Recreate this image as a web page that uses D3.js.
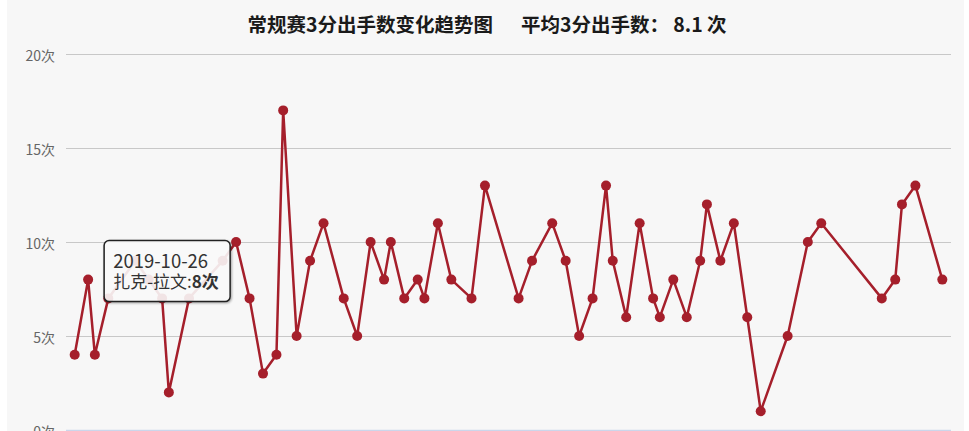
<!DOCTYPE html>
<html>
<head>
<meta charset="utf-8">
<script src="https://cdn.jsdelivr.net/npm/d3@7"></script>
<style>
  body { margin: 0; background: #fff; }
  svg { display: block; font-family: "Noto Sans CJK SC", "Noto Sans", sans-serif; }
</style>
</head>
<body>
<svg id="chart"></svg>
<script>
const width = 969;
const height = 431;
const plot = {left: 66, right: 951, top: 54, bottom: 430};

// game dates (Beijing time) and 3-point attempts
const gameDates = [
  '2019-10-24', '2019-10-26', '2019-10-27', '2019-10-29', '2019-11-02', '2019-11-04',
  '2019-11-06', '2019-11-07', '2019-11-10', '2019-11-15', '2019-11-17', '2019-11-19',
  '2019-11-21', '2019-11-23', '2019-11-24', '2019-11-26', '2019-11-28', '2019-11-30',
  '2019-12-03', '2019-12-05', '2019-12-07', '2019-12-09', '2019-12-10', '2019-12-12',
  '2019-12-14', '2019-12-15', '2019-12-17', '2019-12-19', '2019-12-22', '2019-12-24',
  '2019-12-29', '2019-12-31', '2020-01-03', '2020-01-05', '2020-01-07', '2020-01-09',
  '2020-01-11', '2020-01-12', '2020-01-14', '2020-01-16', '2020-01-18', '2020-01-19',
  '2020-01-21', '2020-01-23', '2020-01-25', '2020-01-26', '2020-01-28', '2020-01-30',
  '2020-02-01', '2020-02-03', '2020-02-07', '2020-02-10', '2020-02-12', '2020-02-21',
  '2020-02-23', '2020-02-24', '2020-02-26', '2020-03-01'
];
const attempts = [
  4, 8, 4, 7, 9, 8,
  7, 2, 7, 9, 10, 7,
  3, 4, 17, 5, 9, 11,
  7, 5, 10, 8, 10, 7,
  8, 7, 11, 8, 7, 13,
  7, 9, 11, 9, 5, 7,
  13, 9, 6, 11, 7, 6,
  8, 6, 9, 12, 9, 11,
  6, 1, 5, 10, 11, 7,
  8, 12, 13, 8
];
const yTicks = [0, 5, 10, 15, 20];
const playerName = '扎克-拉文';
const titleMain = '常规赛3分出手数变化趋势图';
const titleAvg = '平均3分出手数： 8.1 次';
const tooltipIndex = 1;

const parseDate = d3.timeParse('%Y-%m-%d');
const games = gameDates.map((d, i) => ({date: parseDate(d), label: d, value: attempts[i]}));

const svg = d3.select('#chart')
  .attr('width', width)
  .attr('height', height);

svg.append('rect')
  .attr('x', 7)
  .attr('y', 0)
  .attr('width', 957)
  .attr('height', height)
  .attr('fill', '#f7f7f7');

// title
const title = svg.append('text')
  .attr('x', 487)
  .attr('y', 32)
  .attr('text-anchor', 'middle')
  .attr('font-size', 19.5)
  .attr('font-weight', 'bold')
  .attr('fill', '#1a1a1a');
title.append('tspan').text(titleMain);
title.append('tspan').attr('dx', 28).text(titleAvg);

// scales
const extent = d3.extent(games, d => d.date);
const pad = (extent[1] - extent[0]) * 0.01;
const xScale = d3.scaleTime()
  .domain([new Date(+extent[0] - pad), new Date(+extent[1] + pad)])
  .range([plot.left, plot.right]);

const yScale = d3.scaleLinear()
  .domain([0, 20])
  .range([plot.bottom, plot.top]);

// y axis with grid lines
const yAxis = d3.axisLeft(yScale)
  .tickValues(yTicks)
  .tickSize(-(plot.right - plot.left))
  .tickPadding(11)
  .tickFormat(d => d + '次');

const yAxisGroup = svg.append('g')
  .attr('transform', `translate(${plot.left}, 0)`)
  .call(yAxis);
yAxisGroup.select('.domain').remove();
yAxisGroup.selectAll('.tick line')
  .attr('stroke', d => d === 0 ? '#ccd6eb' : '#c8c8c8')
  .attr('stroke-width', d => d === 0 ? 1.5 : 1.2);
yAxisGroup.selectAll('.tick text')
  .attr('fill', '#666')
  .attr('font-size', 14)
  .attr('dy', '0.45em')
  .style('font-family', '"Noto Sans CJK SC", sans-serif');

// line and markers
const lineColor = '#a51f2b';
const line = d3.line()
  .x(d => xScale(d.date))
  .y(d => yScale(d.value));

svg.append('path')
  .datum(games)
  .attr('d', line)
  .attr('fill', 'none')
  .attr('stroke', lineColor)
  .attr('stroke-width', 2.5)
  .attr('stroke-linejoin', 'round');

svg.selectAll('circle.dot')
  .data(games)
  .enter()
  .append('circle')
  .attr('class', 'dot')
  .attr('cx', d => xScale(d.date))
  .attr('cy', d => yScale(d.value))
  .attr('r', 5)
  .attr('fill', lineColor);

// tooltip
const hovered = games[tooltipIndex];
const tipX = xScale(hovered.date) + 16;
const tipY = yScale(hovered.value) - 39;

const defs = svg.append('defs');
const shadow = defs.append('filter').attr('id', 'tipShadow')
  .attr('x', '-10%').attr('y', '-10%').attr('width', '130%').attr('height', '140%');
shadow.append('feDropShadow')
  .attr('dx', 1).attr('dy', 1).attr('stdDeviation', 1.2)
  .attr('flood-color', '#000').attr('flood-opacity', 0.35);

const tip = svg.append('g')
  .attr('transform', `translate(${tipX}, ${tipY})`);
tip.append('rect')
  .attr('width', 126)
  .attr('height', 61)
  .attr('rx', 5)
  .attr('fill', 'rgba(255,255,255,0.86)')
  .attr('stroke', '#222')
  .attr('stroke-width', 1.5)
  .attr('filter', 'url(#tipShadow)');
tip.append('text')
  .attr('x', 9)
  .attr('y', 27)
  .attr('font-size', 18.5)
  .attr('fill', '#333')
  .text(hovered.label);
const tipLine = tip.append('text')
  .attr('x', 9)
  .attr('y', 47)
  .attr('font-size', 17)
  .attr('fill', '#333');
tipLine.append('tspan').text(playerName + ':');
tipLine.append('tspan').attr('font-weight', 'bold').text(hovered.value + '次');
</script>
</body>
</html>
